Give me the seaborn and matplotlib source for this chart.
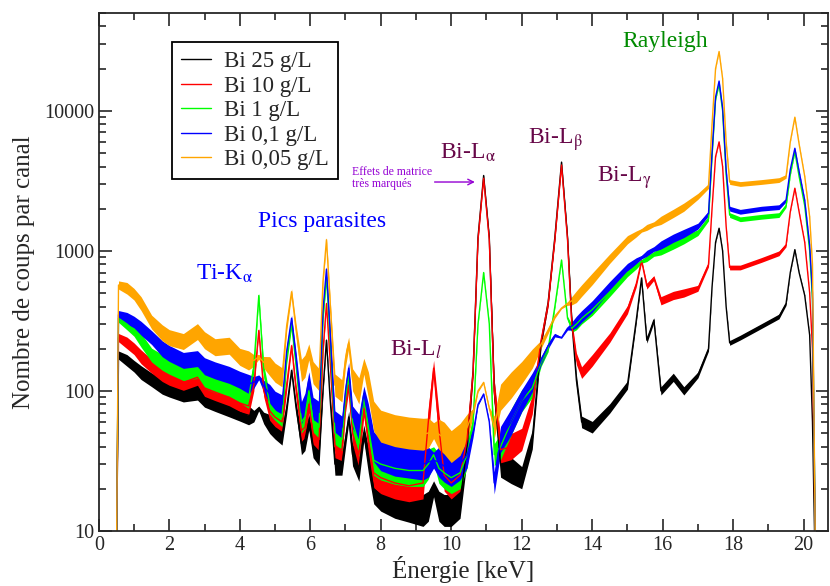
import numpy as np
import matplotlib
matplotlib.use('Agg')
import matplotlib.pyplot as plt
from matplotlib.ticker import FixedLocator, MultipleLocator, LogLocator, NullFormatter
import seaborn as sns

sns.set_style('ticks')
plt.rcParams['font.family'] = ['Liberation Serif', 'DejaVu Serif']
plt.rcParams['mathtext.fontset'] = 'stix'

# energies (keV), shared grid for all spectra
energie = [0.50, 0.56, 0.8, 1.0, 1.2, 1.5, 1.8, 2.0, 2.4, 2.8,
           3.0, 3.3, 3.7, 4.0, 4.25, 4.4, 4.54, 4.68, 4.85, 5.0,
           5.2, 5.33, 5.47, 5.6, 5.75, 5.85, 5.96, 6.08, 6.25, 6.36,
           6.46, 6.56, 6.7, 6.9, 7.0, 7.09, 7.2, 7.38, 7.52, 7.65,
           7.8, 8.0, 8.4, 8.8, 9.2, 9.35, 9.5, 9.65, 9.8, 10.0,
           10.25, 10.45, 10.62, 10.76, 10.92, 11.08, 11.22, 11.4, 11.7, 12.0,
           12.3, 12.55, 12.75, 12.94, 13.13, 13.3, 13.42, 13.55, 13.7, 14.0,
           14.5, 15.0, 15.25, 15.4, 15.55, 15.75, 15.95, 16.3, 16.6, 17.0,
           17.3, 17.4, 17.5, 17.6, 17.7, 17.8, 17.9, 18.2, 18.8, 19.3,
           19.5, 19.62, 19.75, 19.87, 20.03, 20.17, 20.25, 20.33]

bi_25 = [5, 180, 165, 150, 135, 120, 108, 103, 95, 98,
         88, 82, 75, 70, 67, 66, 75, 64, 58, 53,
         48, 75, 140, 75, 42, 45, 60, 40, 35, 100,
         230, 90, 30, 30, 45, 65, 35, 28, 50, 32,
         20, 18, 16, 15, 14, 15, 20, 15, 14, 14,
         16, 40, 140, 1250, 3450, 1250, 100, 30, 27, 24,
         45, 220, 430, 1250, 4300, 1250, 320, 120, 60, 55,
         75, 110, 320, 640, 230, 320, 100, 125, 100, 130,
         200, 550, 1150, 1450, 1000, 400, 220, 240, 290, 340,
         420, 700, 1020, 700, 480, 250, 60, 5]

bi_10 = [5, 240, 220, 200, 175, 150, 133, 125, 115, 125,
         105, 98, 90, 82, 78, 110, 270, 100, 72, 65,
         60, 110, 210, 100, 52, 55, 80, 50, 45, 190,
         420, 170, 40, 38, 80, 110, 50, 35, 75, 45,
         26, 24, 22, 21, 22, 60, 145, 55, 25, 22,
         25, 45, 135, 1200, 3300, 1200, 100, 38, 40, 45,
         80, 230, 420, 1200, 4100, 1200, 300, 170, 135, 165,
         240, 380, 580, 850, 560, 640, 440, 480, 500, 540,
         800, 2000, 4700, 6000, 4000, 1500, 760, 760, 860, 960,
         1100, 1900, 2800, 1900, 1150, 500, 200, 8]

bi_1 = [5, 330, 300, 270, 230, 180, 160, 150, 135, 140,
        120, 112, 105, 95, 88, 150, 480, 140, 80, 72,
        65, 170, 300, 150, 60, 65, 100, 60, 55, 330,
        650, 250, 50, 45, 90, 130, 60, 42, 90, 55,
        32, 30, 28, 27, 27, 30, 35, 28, 26, 24,
        26, 35, 60, 300, 700, 300, 35, 40, 60, 85,
        105, 160, 200, 400, 860, 330, 280, 300, 330, 380,
        510, 700, 780, 840, 880, 950, 1000, 1100, 1200, 1350,
        1700, 4700, 12000, 15500, 10000, 3500, 1800, 1680, 1750, 1800,
        2100, 3500, 5100, 3400, 2100, 1000, 450, 8]

bi_01 = [5, 350, 330, 310, 280, 240, 200, 185, 165, 170,
         150, 140, 130, 120, 112, 115, 125, 108, 95, 85,
         80, 190, 330, 170, 70, 80, 120, 75, 70, 370,
         740, 280, 60, 55, 100, 145, 65, 55, 95, 65,
         40, 35, 32, 31, 30, 31, 32, 31, 29, 27,
         30, 35, 50, 80, 95, 60, 22, 45, 60, 85,
         115, 165, 210, 250, 240, 280, 290, 310, 340, 400,
         560, 760, 850, 900, 960, 1030, 1100, 1230, 1330, 1500,
         1850, 5000, 12500, 16300, 10500, 3800, 2000, 1900, 2000, 2050,
         2300, 3800, 5400, 3700, 2300, 1100, 500, 8]

bi_005 = [5, 570, 540, 490, 420, 310, 260, 240, 225, 265,
          230, 205, 210, 175, 165, 165, 175, 160, 150, 135,
          125, 290, 510, 270, 140, 150, 190, 135, 120, 600,
          1200, 450, 110, 100, 170, 220, 120, 100, 150, 110,
          66, 56, 52, 50, 49, 50, 52, 49, 46, 40,
          45, 55, 70, 100, 115, 75, 55, 90, 110, 135,
          170, 215, 270, 340, 390, 420, 440, 470, 520, 630,
          880, 1200, 1320, 1400, 1470, 1550, 1650, 1850, 2050, 2450,
          2900, 8000, 20000, 26500, 17000, 6000, 3100, 3000, 3100, 3200,
          3400, 6000, 9000, 5800, 3400, 1750, 800, 8]

# relative spread of the counting noise seen around each curve
bruit = [0, 0.07, 0.1, 0.1, 0.12, 0.12, 0.14, 0.14, 0.14, 0.14,
         0.15, 0.15, 0.15, 0.15, 0.17, 0.1, 0.04, 0.1, 0.17, 0.17,
         0.17, 0.1, 0.05, 0.1, 0.2, 0.2, 0.14, 0.2, 0.2, 0.07,
         0.04, 0.07, 0.2, 0.2, 0.14, 0.1, 0.2, 0.24, 0.14, 0.24,
         0.28, 0.3, 0.3, 0.3, 0.3, 0.28, 0.14, 0.28, 0.3, 0.3,
         0.3, 0.24, 0.07, 0.02, 0.01, 0.02, 0.2, 0.24, 0.24, 0.2,
         0.17, 0.07, 0.05, 0.03, 0.01, 0.03, 0.07, 0.1, 0.1, 0.1,
         0.08, 0.07, 0.05, 0.03, 0.05, 0.04, 0.07, 0.07, 0.07, 0.05,
         0.04, 0.01, 0.01, 0.01, 0.01, 0.01, 0.04, 0.04, 0.04, 0.04,
         0.03, 0.01, 0.01, 0.01, 0.01, 0.01, 0.01, 0]

series = [('Bi 25 g/L', 'black', bi_25),
          ('Bi 10 g/L', '#ff0000', bi_10),
          ('Bi 1 g/L', '#00ff00', bi_1),
          ('Bi 0,1 g/L', '#0000ff', bi_01),
          ('Bi 0,05 g/L', '#ffa500', bi_005)]

fig, ax = plt.subplots(figsize=(8.3, 5.86), dpi=100)
fig.subplots_adjust(left=0.119, right=0.998, bottom=0.094, top=0.978)

b = np.array(bruit)
for nom, couleur, valeurs in series:
    v = np.array(valeurs, dtype=float)
    ax.fill_between(energie, v / (1 + b), v * (1 + b), color=couleur, lw=0)
    sns.lineplot(x=energie, y=v, ax=ax, color=couleur, lw=1, label=nom)

ax.set_yscale('log')
ax.set_xlim(0, 20.7)
ax.set_ylim(10, 50000)
ax.xaxis.set_major_locator(MultipleLocator(2))
ax.xaxis.set_minor_locator(MultipleLocator(1))
ax.yaxis.set_major_locator(FixedLocator([10, 100, 1000, 10000]))
ax.set_yticklabels(['10', '100', '1000', '10000'])
ax.yaxis.set_minor_locator(LogLocator(base=10, subs=np.arange(2, 10)))
ax.yaxis.set_minor_formatter(NullFormatter())
ax.tick_params(which='both', direction='in', top=True, right=True, width=1.2, labelsize=14.5)
ax.tick_params(which='major', length=9)
ax.tick_params(which='minor', length=5)
for s in ax.spines.values():
    s.set_linewidth(1.3)

ax.set_xlabel('Énergie [keV]', fontsize=18, labelpad=1)
ax.set_ylabel('Nombre de coups par canal', fontsize=18, labelpad=6)

bleu = '#0000ff'
marron = '#670748'
violet = '#9400d3'
ax.text(3.57, 680, r'Ti-K$_\mathrm{\alpha}$', color=bleu, fontsize=17, ha='center', va='center')
ax.text(6.33, 1630, 'Pics parasites', color=bleu, fontsize=17, ha='center', va='center')
ax.text(9.0, 195, r'Bi-L$_l$', color=marron, fontsize=17, ha='center', va='center')
ax.text(10.47, 5000, r'Bi-L$_\mathrm{\alpha}$', color=marron, fontsize=17, ha='center', va='center')
ax.text(12.94, 6200, r'Bi-L$_\mathrm{\beta}$', color=marron, fontsize=17, ha='center', va='center')
ax.text(14.9, 3330, r'Bi-L$_\mathrm{\gamma}$', color=marron, fontsize=17, ha='center', va='center')
ax.text(16.06, 31000, 'Rayleigh', color='#008b00', fontsize=17, ha='center', va='center')
ax.text(7.18, 3330, 'Effets de matrice\ntrès marqués', color=violet, fontsize=8.5,
        ha='left', va='center', linespacing=1.0)
ax.annotate('', xy=(10.75, 3100), xytext=(9.45, 3100),
            arrowprops=dict(arrowstyle='->', color=violet, lw=1))

leg = ax.legend(loc='upper left', bbox_to_anchor=(0.1, 0.944), borderaxespad=0,
                fontsize=16.5, handlelength=1.3, handletextpad=0.6, labelspacing=0.15,
                borderpad=0.4, fancybox=False, edgecolor='black', framealpha=1)
leg.get_frame().set_linewidth(1.3)

fig.savefig('out.png', dpi=100)
